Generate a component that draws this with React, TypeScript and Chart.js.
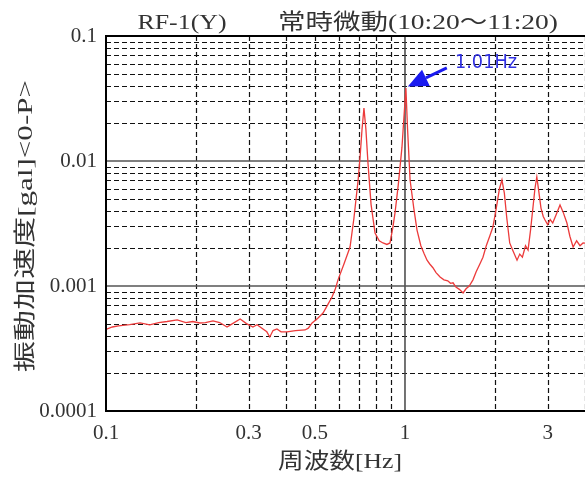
import React, { useEffect, useRef } from "react";
import { Chart, registerables } from "chart.js";

Chart.register(...registerables);

// ---- data ----
const freqHz = [
  0.1, 0.105, 0.11, 0.12, 0.13, 0.14, 0.15, 0.16, 0.173, 0.185, 0.195, 0.206, 0.215, 0.228, 0.24, 0.254, 0.265,
  0.281, 0.295, 0.31, 0.32, 0.335, 0.345, 0.353, 0.362, 0.373, 0.385, 0.403, 0.43, 0.463, 0.475, 0.489, 0.51,
  0.532, 0.55, 0.57, 0.585, 0.597, 0.625, 0.655, 0.675, 0.697, 0.708, 0.718, 0.729, 0.74, 0.752, 0.77, 0.794,
  0.82, 0.844, 0.87, 0.891, 0.91, 0.926, 0.95, 0.977, 0.995, 1.007, 1.02, 1.04, 1.07, 1.097, 1.13, 1.16, 1.185,
  1.21, 1.24, 1.27, 1.31, 1.35, 1.39, 1.42, 1.448, 1.48, 1.52, 1.564, 1.6, 1.64, 1.688, 1.73, 1.78, 1.823, 1.87,
  1.92, 1.968, 2.02, 2.07, 2.11, 2.15, 2.19, 2.24, 2.3, 2.37, 2.42, 2.47, 2.53, 2.58, 2.63, 2.68, 2.72, 2.76,
  2.8, 2.85, 2.9, 2.94, 3.0, 3.06, 3.12, 3.2, 3.3, 3.38, 3.48, 3.56, 3.65, 3.75, 3.85, 3.94, 4.0,
];
const accelGal = [
  0.00045, 0.00047, 0.00048, 0.00049, 0.000506, 0.000488, 0.00051, 0.00052, 0.000535, 0.00051, 0.00052, 0.000506,
  0.00051, 0.000525, 0.00051, 0.00047, 0.0005, 0.000545, 0.0005, 0.00047, 0.00049, 0.000453, 0.00043, 0.000391,
  0.00044, 0.000453, 0.00043, 0.000429, 0.00044, 0.000445, 0.00046, 0.000506, 0.00055, 0.000608, 0.0007, 0.000817,
  0.00095, 0.00112, 0.0015, 0.00205, 0.0035, 0.00705, 0.011, 0.0177, 0.0265, 0.018, 0.00964, 0.0045, 0.00265,
  0.0023, 0.00221, 0.00215, 0.00221, 0.0029, 0.00384, 0.0065, 0.0129, 0.025, 0.0384, 0.018, 0.00705, 0.0042,
  0.0028, 0.0021, 0.0018, 0.00161, 0.0015, 0.0014, 0.00128, 0.00118, 0.00112, 0.0011, 0.00105, 0.00106, 0.00098,
  0.00094, 0.00088, 0.00095, 0.001, 0.00112, 0.0013, 0.0015, 0.0017, 0.0021, 0.0025, 0.00296, 0.0042, 0.006,
  0.00705, 0.0055, 0.0035, 0.00221, 0.0019, 0.00161, 0.0018, 0.0017, 0.0021, 0.00194, 0.0028, 0.00428, 0.006,
  0.00745, 0.0058, 0.0042, 0.0036, 0.00337, 0.0031, 0.0034, 0.00319, 0.0037, 0.00445, 0.0039, 0.00319, 0.0025,
  0.00205, 0.0023, 0.0021, 0.00221, 0.0022,
];

const xTickLabels = [0.1, 0.3, 0.5, 1, 3];
const yTickLabels = [0.1, 0.01, 0.001, 0.0001];
const xMin = 0.1;
const xMax = 4;
const yMin = 0.0001;
const yMax = 0.1;
const minorGridX = [0.2, 0.3, 0.4, 0.5, 0.6, 0.7, 0.8, 0.9, 2, 3, 4];
const majorGridX = [1];
const minorGridY = [
  0.0002, 0.0003, 0.0004, 0.0005, 0.0006, 0.0007, 0.0008, 0.0009,
  0.002, 0.003, 0.004, 0.005, 0.006, 0.007, 0.008, 0.009,
  0.02, 0.03, 0.04, 0.05, 0.06, 0.07, 0.08, 0.09,
];
const majorGridY = [0.01, 0.001];

const titleLeft = "RF-1(Y)";
const titleRight = "常時微動(10:20～11:20)";
const yTitle = "振動加速度[gal]<0-P>";
const xTitle = "周波数[Hz]";

const peakLabel = "1.01Hz";
const peakArrowTip = { x: 1.022, y: 0.0395 };
const peakArrowTail = { x: 1.38, y: 0.0555 };
const peakLabelPos = { x: 1.866, y: 0.0603 };

const SERIF = '"Liberation Serif", "Noto Sans CJK JP", serif';

function drawStretched(
  ctx: CanvasRenderingContext2D,
  text: string,
  cx: number,
  cy: number,
  width: number,
  font: string,
  color: string,
  rotate = 0
) {
  ctx.save();
  ctx.font = font;
  ctx.fillStyle = color;
  ctx.textAlign = "center";
  ctx.textBaseline = "middle";
  const w = ctx.measureText(text).width;
  ctx.translate(cx, cy);
  if (rotate) ctx.rotate(rotate);
  ctx.scale(width / w, 1);
  ctx.fillText(text, 0, 0);
  ctx.restore();
}

const overlayPlugin = {
  id: "overlay",
  beforeDatasetsDraw(chart: any) {
    const { ctx, chartArea: a, scales } = chart;
    const sx = scales.x;
    const sy = scales.y;
    ctx.save();
    ctx.strokeStyle = "#111";
    ctx.lineWidth = 1.2;
    ctx.setLineDash([5, 3]);
    for (const v of minorGridX) {
      const px = Math.round(sx.getPixelForValue(v)) + 0.5;
      ctx.beginPath();
      ctx.moveTo(px, a.top);
      ctx.lineTo(px, a.bottom);
      ctx.stroke();
    }
    for (const v of minorGridY) {
      const py = Math.round(sy.getPixelForValue(v)) + 0.5;
      ctx.beginPath();
      ctx.moveTo(a.left, py);
      ctx.lineTo(a.right, py);
      ctx.stroke();
    }
    ctx.setLineDash([]);
    ctx.strokeStyle = "#444";
    ctx.lineWidth = 1.5;
    for (const v of majorGridX) {
      const px = sx.getPixelForValue(v);
      ctx.beginPath();
      ctx.moveTo(px, a.top);
      ctx.lineTo(px, a.bottom);
      ctx.stroke();
    }
    ctx.strokeStyle = "#555";
    for (const v of majorGridY) {
      const py = sy.getPixelForValue(v);
      ctx.beginPath();
      ctx.moveTo(a.left, py);
      ctx.lineTo(a.right, py);
      ctx.stroke();
    }
    ctx.restore();
  },
  afterDatasetsDraw(chart: any) {
    const { ctx, chartArea: a, scales } = chart;
    const sx = scales.x;
    const sy = scales.y;
    ctx.save();
    // frame
    ctx.strokeStyle = "#000";
    ctx.lineWidth = 2;
    ctx.beginPath();
    ctx.moveTo(a.right, a.top);
    ctx.lineTo(a.left, a.top);
    ctx.lineTo(a.left, a.bottom);
    ctx.lineTo(a.right, a.bottom);
    ctx.stroke();

    // arrow
    const tx = sx.getPixelForValue(peakArrowTip.x);
    const ty = sy.getPixelForValue(peakArrowTip.y);
    const bx = sx.getPixelForValue(peakArrowTail.x);
    const by = sy.getPixelForValue(peakArrowTail.y);
    const ang = Math.atan2(ty - by, tx - bx);
    const headLen = 20;
    const headW = 9;
    const hx = tx - headLen * Math.cos(ang);
    const hy = ty - headLen * Math.sin(ang);
    ctx.strokeStyle = "#1a1af0";
    ctx.fillStyle = "#1a1af0";
    ctx.lineWidth = 3;
    ctx.beginPath();
    ctx.moveTo(bx, by);
    ctx.lineTo(hx, hy);
    ctx.stroke();
    ctx.beginPath();
    ctx.moveTo(tx, ty);
    ctx.lineTo(hx + headW * Math.sin(ang), hy - headW * Math.cos(ang));
    ctx.lineTo(hx - headW * Math.sin(ang), hy + headW * Math.cos(ang));
    ctx.closePath();
    ctx.fill();
    ctx.restore();

    // peak label
    drawStretched(
      ctx,
      peakLabel,
      sx.getPixelForValue(peakLabelPos.x),
      sy.getPixelForValue(peakLabelPos.y),
      62,
      '19px "DejaVu Sans", sans-serif',
      "#3030e0"
    );

    // titles
    drawStretched(ctx, titleLeft, 182, 23, 89, `22px ${SERIF}`, "#333");
    drawStretched(ctx, titleRight, 418, 23, 280, `22px ${SERIF}`, "#333");
    drawStretched(ctx, xTitle, 340, 462, 124, `22px ${SERIF}`, "#333");
    drawStretched(ctx, yTitle, 26, 226, 292, `22px ${SERIF}`, "#333", -Math.PI / 2);
  },
};

export default function App() {
  const ref = useRef<HTMLCanvasElement | null>(null);

  useEffect(() => {
    document.body.style.margin = "0";
    const canvas = ref.current;
    if (!canvas) return;
    const chart = new Chart(canvas, {
      type: "line",
      data: {
        datasets: [
          {
            data: freqHz.map((f, i) => ({ x: f, y: accelGal[i] })),
            borderColor: "#ec3b3b",
            borderWidth: 1.3,
            pointRadius: 0,
            tension: 0,
            fill: false,
          },
        ],
      },
      options: {
        animation: false,
        responsive: false,
        devicePixelRatio: 1,
        layout: { padding: { top: 36, left: 0, right: 0, bottom: 0 } },
        plugins: { legend: { display: false }, tooltip: { enabled: false }, title: { display: false } },
        scales: {
          x: {
            type: "logarithmic",
            min: xMin,
            max: xMax,
            grid: { display: false, drawTicks: false },
            border: { display: false },
            afterBuildTicks: (s: any) => {
              s.ticks = xTickLabels.map((v) => ({ value: v }));
            },
            afterFit: (s: any) => {
              s.height = 73;
            },
            ticks: {
              autoSkip: false,
              maxRotation: 0,
              padding: 10,
              color: "#333",
              font: { family: SERIF, size: 21 },
              callback: (v: any) => String(v),
            },
          },
          y: {
            type: "logarithmic",
            min: yMin,
            max: yMax,
            grid: { display: false, drawTicks: false },
            border: { display: false },
            afterBuildTicks: (s: any) => {
              s.ticks = yTickLabels.map((v) => ({ value: v }));
            },
            afterFit: (s: any) => {
              s.width = 106;
            },
            ticks: {
              autoSkip: false,
              padding: 9,
              color: "#333",
              font: { family: SERIF, size: 21 },
              callback: (v: any) => String(v),
            },
          },
        },
      },
      plugins: [overlayPlugin],
    } as any);
    return () => chart.destroy();
  }, []);

  return <canvas ref={ref} width={585} height={484} style={{ display: "block" }} />;
}
